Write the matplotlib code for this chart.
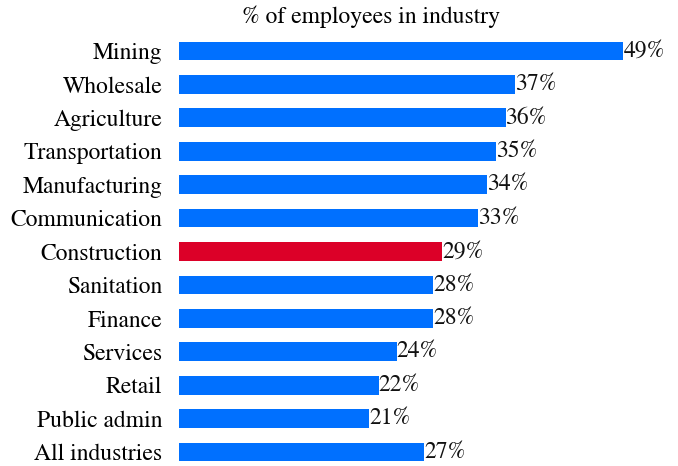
import matplotlib
matplotlib.use("Agg")
import matplotlib.pyplot as plt

industries = ["Mining", "Wholesale", "Agriculture", "Transportation", "Manufacturing",
              "Communication", "Construction", "Sanitation", "Finance", "Services",
              "Retail", "Public admin", "All industries"]
shares = [49, 37, 36, 35, 34, 33, 29, 28, 28, 24, 22, 21, 27]
highlight = "Construction"

blue = "#0070ff"
red = "#dc0028"

plt.rcParams["font.family"] = ["STIXGeneral", "DejaVu Serif"]
plt.rcParams["mathtext.fontset"] = "stix"

W, H = 678, 466
fig = plt.figure(figsize=(W / 100, H / 100), dpi=100)

# axes in pixel coordinates: bars start at x=179, rows from y=51 to y=452
left, right = 179, 641
px_per_pct = 9.07
row_top, row_bot = 51, 452
n = len(industries)
step = (row_bot - row_top) / (n - 1)
ax_top = row_top - step / 2
ax_bot = row_bot + step / 2
ax = fig.add_axes([left / W, 1 - ax_bot / H, (right - left) / W, (ax_bot - ax_top) / H])

ypos = list(range(n))
colors = [red if name == highlight else blue for name in industries]
ax.barh(ypos, shares, height=0.56, color=colors)
ax.set_ylim(n - 0.5, -0.5)
ax.set_xlim(0, (right - left) / px_per_pct)

for y, v in zip(ypos, shares):
    ax.text(v, y, f"{v}%", va="center", ha="left", fontsize=17, color="#111111")

ax.set_yticks(ypos)
ax.set_yticklabels(industries, fontsize=17)
ax.tick_params(axis="y", length=0, pad=12)
ax.set_xticks([])
for s in ax.spines.values():
    s.set_visible(False)

fig.text(371 / W, 1 - 17 / H, "% of employees in industry", ha="center", va="center",
         fontsize=17)

fig.savefig("out.png", dpi=100)
